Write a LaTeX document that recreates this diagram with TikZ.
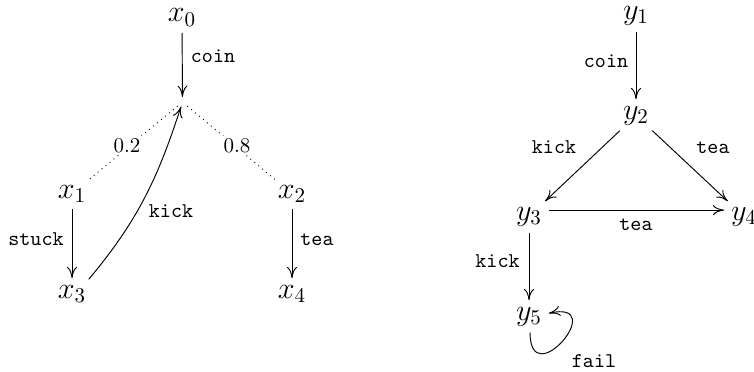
\documentclass[tikz,border=0pt]{standalone}
\usetikzlibrary{arrows.meta}
\begin{document}
\begin{tikzpicture}[x=0.4762pt,y=-0.4762pt,
  >={To[length=5.4pt,width=4.8pt]},
  every path/.style={line width=0.45pt},
  state/.style={anchor=base,inner xsep=3pt,inner ysep=1.5pt,font=\Large},
  trans/.style={->,shorten <=1.5pt,shorten >=1.5pt},
  act/.style={anchor=base,inner sep=1pt,font=\ttfamily},
  prob/.style={anchor=base,inner sep=1pt,fill=white}]
\useasboundingbox (0,0) rectangle (754,371);

% left process
\node[state] (x0) at (182,21.5) {$x_0$};
\node[state] (x1) at (72,198) {$x_1$};
\node[state] (x2) at (292,198) {$x_2$};
\node[state] (x3) at (72,298) {$x_3$};
\node[state] (x4) at (292,298) {$x_4$};
\coordinate (split) at (182.5,102);

\draw[trans,shorten >=2.4pt] (x0) -- (split);
\draw[dotted,shorten <=3pt,shorten >=1.5pt] (split) -- (x1);
\draw[dotted,shorten <=3pt,shorten >=1.5pt] (split) -- (x2);
\draw[trans] (x1) -- (x3);
\draw[trans] (x2) -- (x4);
\draw[->,shorten >=2.2pt] ([xshift=-2pt,yshift=1pt]x3.north east) to[out=50,in=-108] (split);

\node[act] (lcoinx) at (213,62.7) {coin};
\node[prob] (lp2) at (127,152) {0.2};
\node[prob] (lp8) at (237,152) {0.8};
\node[act] (lstuck) at (36,245) {stuck};
\node[act] (lteax) at (317,245) {tea};
\node[act] (lkickx) at (171,217) {kick};

% right process
\node[state] (y1) at (636,19) {$y_1$};
\node[state] (y2) at (636,119) {$y_2$};
\node[state] (y3) at (529,220) {$y_3$};
\node[state] (y4) at (744,220) {$y_4$};
\node[state] (y5) at (529,320) {$y_5$};

\draw[trans] (y1) -- (y2);
\draw[trans] (y2) -- (y3);
\draw[trans] (y2) -- (y4);
\draw[->] ([yshift=3pt]y3.east) -- ([yshift=3pt]y4.west);
\draw[trans] (y3) -- (y5);
\draw[->] ([xshift=0.5pt,yshift=-1.5pt]y5.south) .. controls +(0,62) and +(62,-14) .. ([xshift=0pt,yshift=1.5pt]y5.east);

\node[act] (lcoiny) at (606,67) {coin};
\node[act] (lkicky) at (554,153) {kick};
\node[act] (lteay) at (713,153) {tea};
\node[act] (lteaz) at (636,230) {tea};
\node[act] (lkickz) at (497.5,267) {kick};
\node[act] (lfail) at (594,367) {fail};
\end{tikzpicture}
\end{document}
